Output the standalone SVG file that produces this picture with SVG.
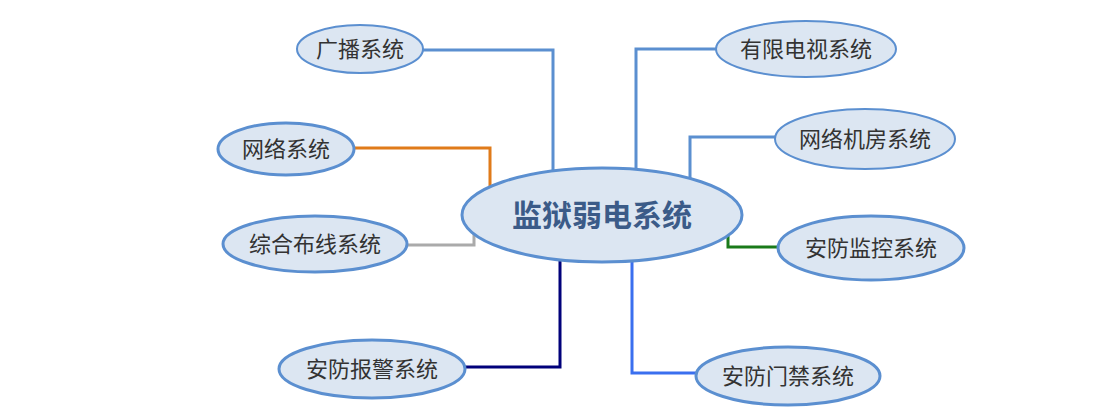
<svg xmlns="http://www.w3.org/2000/svg" width="1110" height="417" viewBox="0 0 1110 417">
<style>
.n{fill:#dce6f2;stroke:#5b8fd0;stroke-width:3}
.thin{stroke-width:2}
.t{font-family:"Liberation Sans","Noto Sans CJK SC",sans-serif;font-size:22px;fill:#333;text-anchor:middle;dominant-baseline:central}
.c{fill:none;stroke-width:3}
</style>
<rect width="1110" height="417" fill="#fff"/>
<g id="connectors">
<path class="c" stroke="#5b8fd0" d="M423,50H553V170"/>
<path class="c" stroke="#5b8fd0" d="M716,49H636V170"/>
<path class="c" stroke="#5b8fd0" d="M775,137H690V180"/>
<path class="c" stroke="#e07b1a" d="M355,148H490V186"/>
<path class="c" stroke="#aaaaaa" d="M408,245H474V232"/>
<path class="c" stroke="#1a7a1a" d="M778,247H728V236"/>
<path class="c" stroke="#00007a" d="M465,367H560V260"/>
<path class="c" stroke="#3a6fef" d="M697,373H632V260"/>
</g>
<g id="center">
<ellipse class="n" cx="602" cy="215" rx="140" ry="47"/>
<text class="t" x="602" y="215" style="font-size:30px;font-weight:bold;fill:#3b5b88">监狱弱电系统</text>
</g>
<g id="n1"><ellipse class="n thin" cx="360" cy="49" rx="63" ry="24"/><text class="t" x="360" y="49">广播系统</text></g>
<g id="n2"><ellipse class="n" cx="286" cy="149" rx="68" ry="26"/><text class="t" x="286" y="149">网络系统</text></g>
<g id="n3"><ellipse class="n" cx="315" cy="244" rx="92" ry="28"/><text class="t" x="315" y="244">综合布线系统</text></g>
<g id="n4"><ellipse class="n" cx="372" cy="369" rx="93" ry="29"/><text class="t" x="372" y="369">安防报警系统</text></g>
<g id="n5"><ellipse class="n thin" cx="806" cy="49" rx="90" ry="28"/><text class="t" x="806" y="49">有限电视系统</text></g>
<g id="n6"><ellipse class="n thin" cx="865" cy="139" rx="90" ry="30"/><text class="t" x="865" y="139">网络机房系统</text></g>
<g id="n7"><ellipse class="n" cx="871" cy="248" rx="93" ry="32"/><text class="t" x="871" y="248">安防监控系统</text></g>
<g id="n8"><ellipse class="n" cx="788" cy="376" rx="92" ry="29"/><text class="t" x="788" y="376">安防门禁系统</text></g>
</svg>
